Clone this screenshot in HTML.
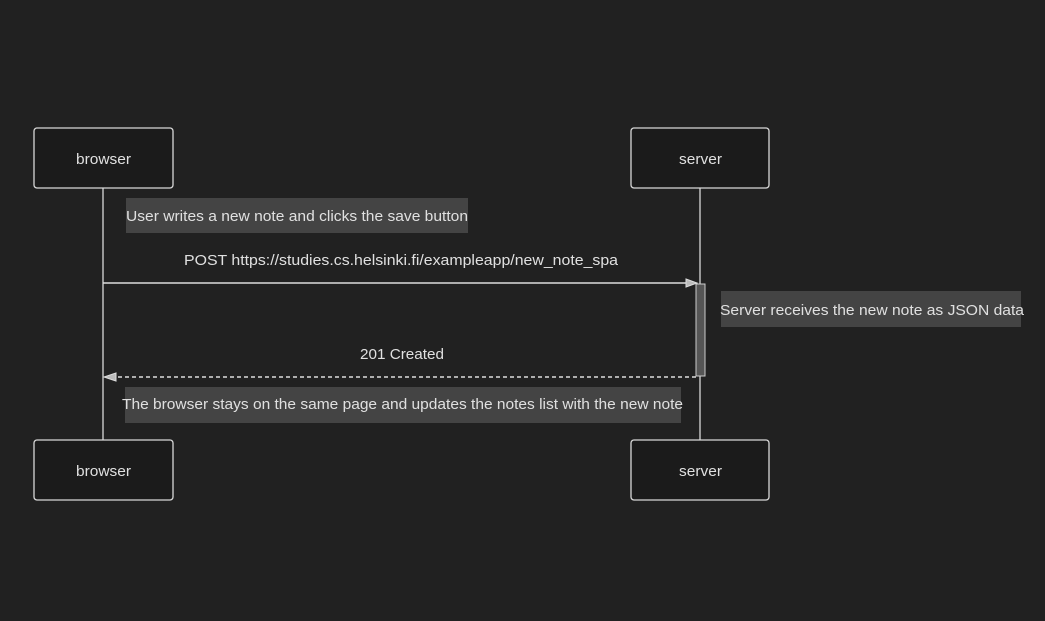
<!DOCTYPE html>
<html><head><style>
html,body{margin:0;padding:0;background:#212121;}
svg{display:block}
text{font-family:"Liberation Sans",sans-serif;fill:#e0e0e0;font-size:15px}
</style></head><body>
<svg width="1045" height="621" xmlns="http://www.w3.org/2000/svg">
<rect width="1045" height="621" fill="#212121"/>
<g stroke="#d8d8d8" stroke-width="1.3" fill="none">
<line x1="103" y1="188" x2="103" y2="440"/>
<line x1="700" y1="188" x2="700" y2="440"/>
<rect x="34" y="128" width="139" height="60" rx="3" fill="#1b1b1b"/>
<rect x="631" y="128" width="138" height="60" rx="3" fill="#1b1b1b"/>
<rect x="34" y="440" width="139" height="60" rx="3" fill="#1b1b1b"/>
<rect x="631" y="440" width="138" height="60" rx="3" fill="#1b1b1b"/>
</g>
<rect x="126" y="198" width="342" height="35" fill="#444"/>
<rect x="721" y="291" width="300" height="36" fill="#444"/>
<rect x="125" y="387" width="556" height="36" fill="#444"/>
<rect x="696" y="284" width="9" height="92" fill="#555" stroke="#ccc" stroke-width="1"/>
<line x1="103" y1="283" x2="696" y2="283" stroke="#ddd" stroke-width="1.4"/>
<path d="M686 279 L697 283 L686 287 Z" fill="#bbb" stroke="#ddd"/>
<line x1="696" y1="377" x2="110" y2="377" stroke="#ddd" stroke-width="1.4" stroke-dasharray="4,3"/>
<path d="M116 373 L104 377 L116 381 Z" fill="#bbb" stroke="#ddd"/>
<text x="76" y="164" textLength="55" lengthAdjust="spacingAndGlyphs">browser</text>
<text x="679" y="164" textLength="43" lengthAdjust="spacingAndGlyphs">server</text>
<text x="76" y="476" textLength="55" lengthAdjust="spacingAndGlyphs">browser</text>
<text x="679" y="476" textLength="43" lengthAdjust="spacingAndGlyphs">server</text>
<text x="126" y="221" textLength="342" lengthAdjust="spacingAndGlyphs" fill="#ccc">User writes a new note and clicks the save button</text>
<text x="184" y="265" textLength="434" lengthAdjust="spacingAndGlyphs">POST https://studies.cs.helsinki.fi/exampleapp/new_note_spa</text>
<text x="720" y="315" textLength="304" lengthAdjust="spacingAndGlyphs" fill="#ccc">Server receives the new note as JSON data</text>
<text x="360" y="359" textLength="84" lengthAdjust="spacingAndGlyphs">201 Created</text>
<text x="122" y="409" textLength="561" lengthAdjust="spacingAndGlyphs" fill="#ccc">The browser stays on the same page and updates the notes list with the new note</text>
</svg>
</body></html>
